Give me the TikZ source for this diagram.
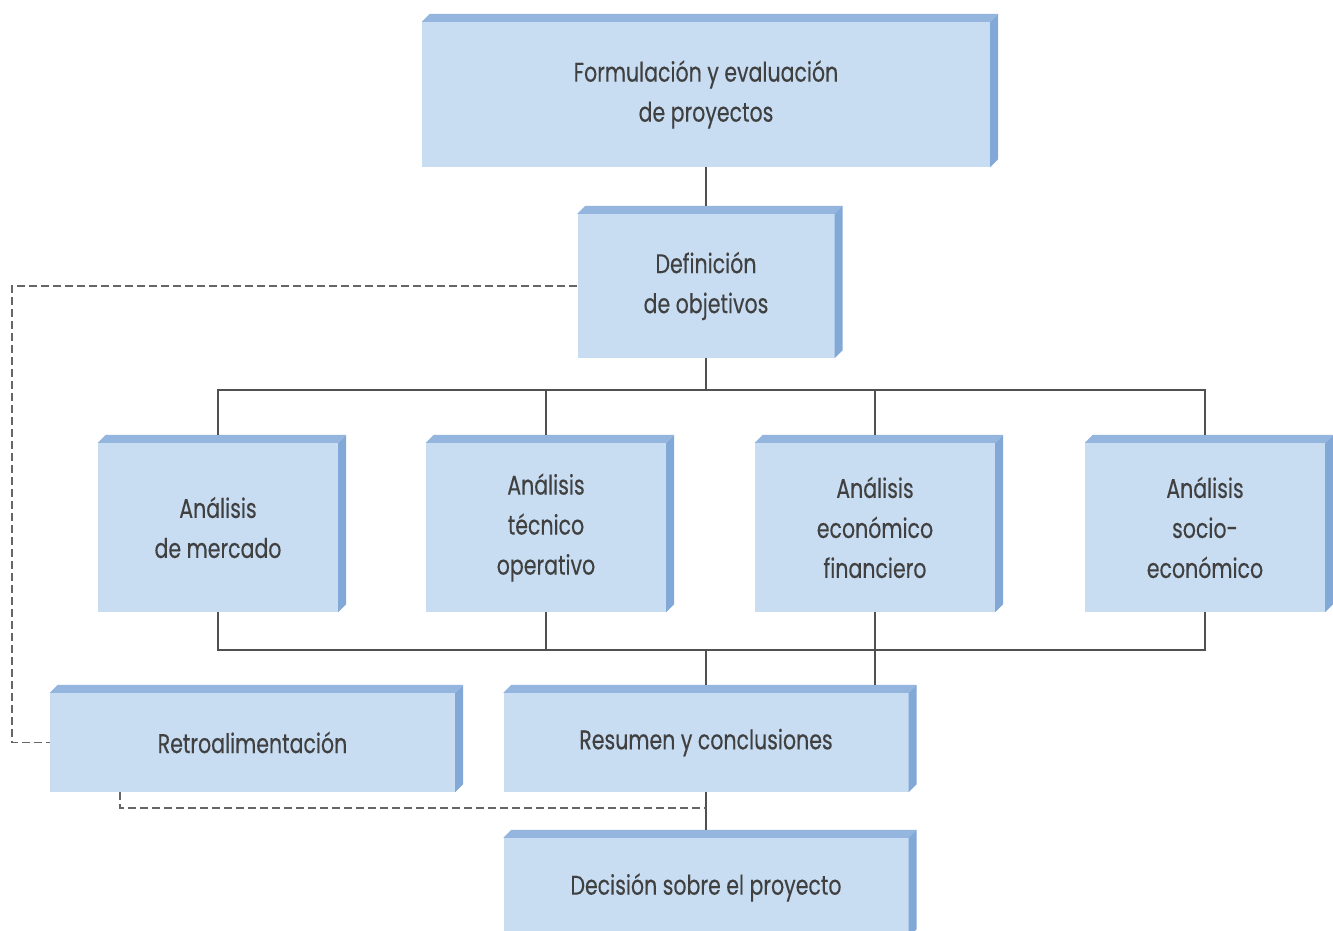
\documentclass[tikz,border=0pt]{standalone}
\usepackage{fontspec}
\setmainfont{Poppins}[FakeStretch=0.76,FakeBold=0.3]
\usetikzlibrary{calc}
\definecolor{face}{HTML}{C8DDF2}
\definecolor{edgetop}{HTML}{93B5DE}
\definecolor{edgeside}{HTML}{82A8D8}
\definecolor{txt}{HTML}{404040}
\definecolor{ln}{HTML}{505050}
\definecolor{dln}{HTML}{666666}
\tikzset{
  blk/.style={fill=face, inner sep=0pt, text=txt, align=center,
    font=\fontsize{27}{40}\selectfont},
  conn/.style={draw=ln, line width=1.5pt},
  fbk/.style={draw=dln, line width=1.5pt, dash pattern=on 8pt off 4pt},
}
\newcommand{\extrude}[1]{%
  \fill[edgetop] (#1.north west) -- ++(8,-8) -- ($(#1.north east)+(8,-8)$) -- (#1.north east) -- cycle;
  \fill[edgeside] (#1.north east) -- ++(8,-8) -- ($(#1.south east)+(8,-8)$) -- (#1.south east) -- cycle;}
\begin{document}
\begin{tikzpicture}[x=1pt,y=-1pt]
\useasboundingbox (0,0) rectangle (1333,931);
\fill[white] (0,0) rectangle (1333,931);
\clip (0,0) rectangle (1333,931);

\node[blk, minimum width=568pt, minimum height=145pt] (top) at (706,94.5) {Formulación y evaluación\\de proyectos};
\node[blk, minimum width=257pt, minimum height=144pt] (def) at (706,286) {Definición\\de objetivos};
\node[blk, minimum width=240pt, minimum height=169pt] (a1) at (218,527.5) {Análisis\\de mercado};
\node[blk, minimum width=240pt, minimum height=169pt] (a2) at (546,527.5) {Análisis\\técnico\\operativo};
\node[blk, minimum width=240pt, minimum height=169pt] (a3) at (875,527.5) {Análisis\\económico\\financiero};
\node[blk, minimum width=240pt, minimum height=169pt] (a4) at (1205,527.5) {Análisis\\socio-\\económico};
\node[blk, minimum width=405pt, minimum height=99pt] (retro) at (252.5,742.5) {Retroalimentación};
\node[blk, minimum width=405pt, minimum height=99pt] (res) at (706,742.5) {Resumen y conclusiones};
\node[blk, minimum width=405pt, minimum height=99pt] (dec) at (706,887.5) {Decisión sobre el proyecto};

\foreach \n in {top,def,a1,a2,a3,a4,retro,res,dec} {\extrude{\n}}

% solid connectors
\coordinate (bt) at (706,390);
\coordinate (bb) at (706,650);
\draw[conn] (top.south) -- ($(def.north)+(0,-8)$);
\draw[conn] (def.south) -- (bt);
\draw[conn] ($(a1.north)+(0,-8)$) -- (a1.north |- bt) -- (a4.north |- bt) -- ($(a4.north)+(0,-8)$);
\draw[conn] ($(a2.north)+(0,-8)$) -- (a2.north |- bt);
\draw[conn] ($(a3.north)+(0,-8)$) -- (a3.north |- bt);
\draw[conn] (a1.south) -- (a1.south |- bb) -- (a4.south |- bb) -- (a4.south);
\draw[conn] (a2.south) -- (a2.south |- bb);
\draw[conn] (a3.south) -- ($(a3.south |- res.north)+(0,-8)$);
\draw[conn] (bb) -- ($(res.north)+(0,-8)$);
\draw[conn] (res.south) -- ($(dec.north)+(0,-8)$);

% feedback (dashed)
\coordinate (fbl) at (12,286);
\coordinate (fbb) at (120,808);
\draw[fbk] (def.west) -- (fbl) -- (retro.west -| fbl) -- (retro.west);
\draw[fbk] (retro.south -| fbb) -- (fbb) -- (fbb -| res.south);
\end{tikzpicture}
\end{document}
